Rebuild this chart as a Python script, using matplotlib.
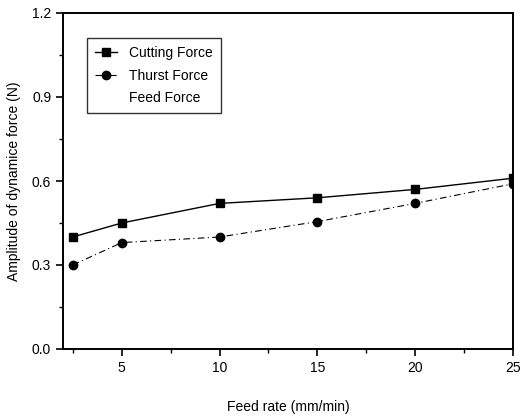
import matplotlib
matplotlib.use("Agg")
import matplotlib.pyplot as plt
from matplotlib.ticker import MultipleLocator

plt.rcParams["font.family"] = ["Liberation Sans", "DejaVu Sans"]

feed_rate = [2.5, 5, 10, 15, 20, 25]
cutting_force = [0.40, 0.45, 0.52, 0.54, 0.57, 0.61]
thrust_force = [0.30, 0.38, 0.40, 0.455, 0.52, 0.59]

fig = plt.figure(figsize=(5.2, 4.16), dpi=100)
ax = fig.add_axes([63 / 520, 1 - 349 / 416, (513 - 63) / 520, (349 - 13) / 416])

ax.plot(feed_rate, cutting_force, color="black", linewidth=1.0, marker="s",
        markersize=6, label="Cutting Force")
ax.plot(feed_rate, thrust_force, color="black", linewidth=0.8, linestyle=(0, (6, 3, 1, 3)),
        marker="o", markersize=6, label="Thurst Force")
ax.plot([], [], color="none", label="Feed Force")

ax.set_xlim(2, 25)
ax.set_ylim(0, 1.2)
ax.set_xticks([5, 10, 15, 20, 25])
ax.xaxis.set_minor_locator(MultipleLocator(2.5))
ax.yaxis.set_major_locator(MultipleLocator(0.3))
ax.yaxis.set_minor_locator(MultipleLocator(0.15))
ax.yaxis.set_major_formatter(matplotlib.ticker.FormatStrFormatter("%.1f"))
ax.tick_params(which="major", direction="out", length=5, width=1.2, labelsize=10)
ax.tick_params(which="minor", direction="out", length=3, width=1)
for sp in ax.spines.values():
    sp.set_linewidth(1.4)

ax.set_xlabel("Feed rate (mm/min)", fontsize=10, labelpad=18)
ax.set_ylabel("Amplitude of dynamice force (N)", fontsize=10, labelpad=8)

leg = ax.legend(loc="upper left", bbox_to_anchor=(0.053, 0.926), borderaxespad=0,
                fontsize=10, frameon=True, fancybox=False, edgecolor="black",
                handlelength=1.6, borderpad=0.6, labelspacing=0.6, handletextpad=0.8)
leg.get_frame().set_linewidth(1.0)

fig.savefig("out.png", dpi=100)
